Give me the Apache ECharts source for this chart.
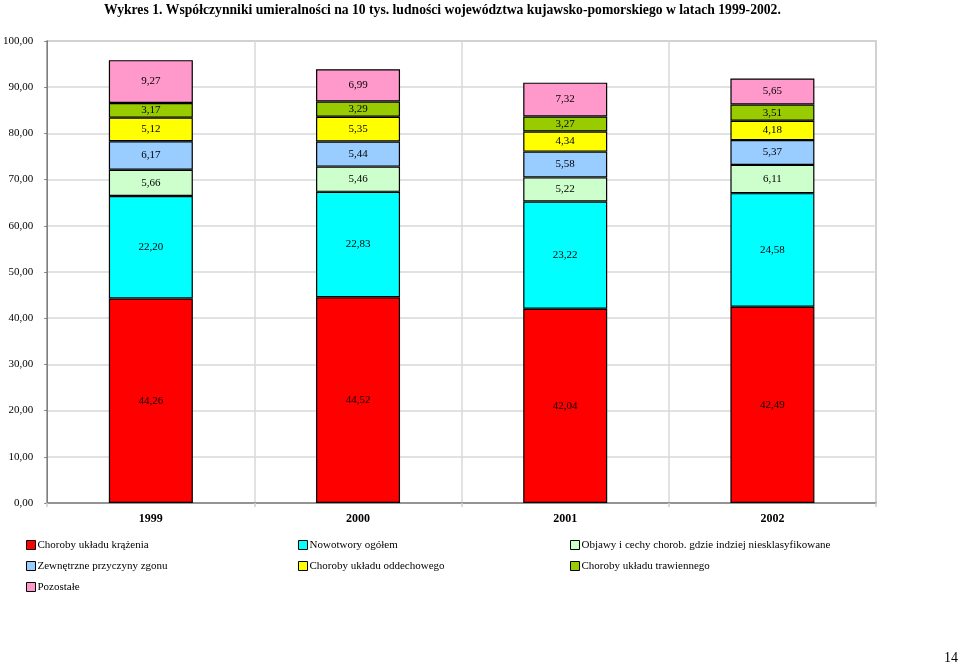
<!DOCTYPE html>
<html>
<head>
<meta charset="utf-8">
<script src="https://cdn.jsdelivr.net/npm/echarts@6/dist/echarts.min.js"></script>
<style>html,body{margin:0;padding:0;background:#fff;}#c{width:960px;height:664px;}</style>
</head>
<body>
<div id="c"></div>
<script>
var categories = ['1999', '2000', '2001', '2002'];
var seriesNames = [
  'Choroby układu krążenia',
  'Nowotwory ogółem',
  'Objawy i cechy chorob. gdzie indziej niesklasyfikowane',
  'Zewnętrzne przyczyny zgonu',
  'Choroby układu oddechowego',
  'Choroby układu trawiennego',
  'Pozostałe'
];
var krazenia = [44.26, 44.52, 42.04, 42.49];
var nowotwory = [22.20, 22.83, 23.22, 24.58];
var objawy = [5.66, 5.46, 5.22, 6.11];
var zewnetrzne = [6.17, 5.44, 5.58, 5.37];
var oddechowe = [5.12, 5.35, 4.34, 4.18];
var trawienne = [3.17, 3.29, 3.27, 3.51];
var pozostale = [9.27, 6.99, 7.32, 5.65];
var yTicks = [0, 10, 20, 30, 40, 50, 60, 70, 80, 90, 100];

var values = [krazenia, nowotwory, objawy, zewnetrzne, oddechowe, trawienne, pozostale];
var colors = ['#FF0000', '#00FFFF', '#CCFFCC', '#99CCFF', '#FFFF00', '#99CC00', '#FF99CC'];
var font = '"Liberation Serif", "Times New Roman", serif';
function fmt(v) { return v.toFixed(2).replace('.', ','); }

var series = values.map(function (d, i) {
  return {
    name: seriesNames[i],
    type: 'bar',
    stack: 'all',
    data: d,
    barWidth: 84,
    itemStyle: { color: colors[i], borderColor: '#000', borderWidth: 1.2 },
    label: {
      show: true, position: 'inside', color: '#000',
      fontFamily: font, fontSize: 11, textBorderWidth: 0, textBorderColor: 'transparent',
      formatter: function (p) { return fmt(p.value); }
    },
    emphasis: { disabled: true },
    animation: false
  };
});

var legendCommon = {
  orient: 'vertical', icon: 'rect', itemWidth: 9, itemHeight: 9, itemGap: 9,
  textStyle: { fontFamily: font, fontSize: 11, color: '#000', lineHeight: 12, padding: [0, 0, 0, -3] },
  itemStyle: { borderColor: '#000', borderWidth: 1 },
  selectedMode: false, top: 534
};
function lg(left, names) {
  var o = {}; for (var k in legendCommon) o[k] = legendCommon[k];
  o.left = left; o.data = names; return o;
}

var chart = echarts.init(document.getElementById('c'), null, { renderer: 'canvas' });
chart.setOption({
  backgroundColor: '#fff',
  animation: false,
  legend: [
    lg(21, [seriesNames[0], seriesNames[3], seriesNames[6]]),
    lg(293, [seriesNames[1], seriesNames[4]]),
    lg(565, [seriesNames[2], seriesNames[5]])
  ],
  grid: { left: 43, right: 84, top: 41, bottom: 161, show: true, borderColor: '#a6a6a6', borderWidth: 1.5, containLabel: false },
  xAxis: {
    type: 'category', data: categories,
    axisLine: { show: true, lineStyle: { color: '#808080', width: 1.5 } },
    axisTick: { show: true, length: 4, lineStyle: { color: '#d0d0d0', width: 1.5 } },
    splitLine: { show: true, lineStyle: { color: '#d9d9d9', width: 1.5 } },
    axisLabel: { fontFamily: font, fontSize: 12, fontWeight: 'bold', color: '#000', margin: 10 }
  },
  yAxis: {
    type: 'value', min: yTicks[0], max: yTicks[yTicks.length - 1], interval: 10,
    axisLine: { show: true, lineStyle: { color: '#808080', width: 1.5 } },
    axisTick: { show: true, length: 3, lineStyle: { color: '#808080' } },
    splitLine: { show: true, lineStyle: { color: '#d9d9d9', width: 1.5 } },
    axisLabel: { fontFamily: font, fontSize: 11, color: '#000', margin: 14, formatter: function (v) { return fmt(v); } }
  },
  graphic: [{
    type: 'text', x: 104, y: 3, scaleX: 0.91,
    style: { text: 'Wykres 1. Współczynniki umieralności na 10 tys. ludności województwa kujawsko-pomorskiego w latach 1999-2002.', fontFamily: font, fontSize: 15, fontWeight: 'bold', fill: '#000' }
  }, {
    type: 'text', left: 944, top: 651,
    style: { text: '14', fontFamily: font, fontSize: 14, fill: '#000' }
  }],
  series: series
});
</script>
</body>
</html>
